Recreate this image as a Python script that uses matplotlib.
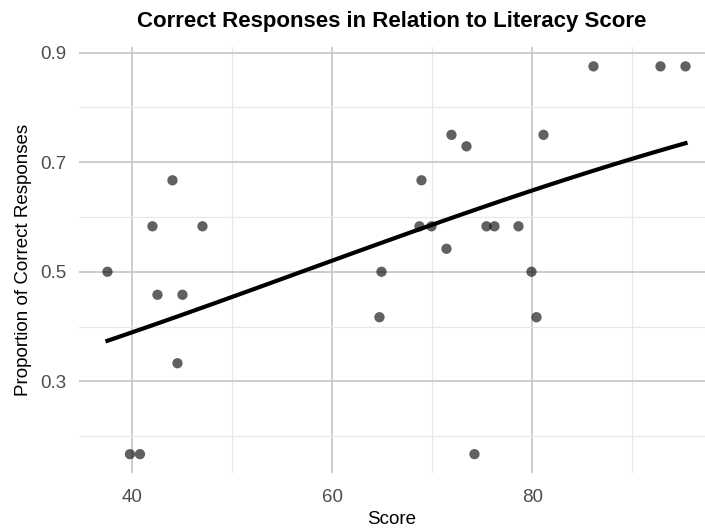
import numpy as np
import matplotlib
matplotlib.use("Agg")
import matplotlib.pyplot as plt
from matplotlib.ticker import MultipleLocator

plt.rcParams["font.family"] = ["Liberation Sans", "DejaVu Sans"]

# data
score = [37.5, 44.0, 42.0, 47.0, 42.5, 45.0, 44.5, 39.75, 40.75, 64.9, 64.7,
         86.1, 92.8, 95.3, 71.9, 73.4, 81.1, 68.9, 68.7, 69.9, 75.4, 76.2,
         78.6, 71.4, 79.9, 80.4, 74.2]
prop = [0.5, 0.667, 0.583, 0.583, 0.458, 0.458, 0.333, 0.167, 0.167, 0.5, 0.417,
        0.875, 0.875, 0.875, 0.75, 0.729, 0.75, 0.667, 0.583, 0.583, 0.583, 0.583,
        0.583, 0.542, 0.5, 0.417, 0.167]

x = np.array(score)
y = np.array(prop)

# logistic (quasi-binomial) smooth via IRLS
X = np.column_stack([np.ones_like(x), x])
b = np.zeros(2)
for _ in range(50):
    eta = X @ b
    mu = 1 / (1 + np.exp(-eta))
    w = mu * (1 - mu)
    z = eta + (y - mu) / w
    b = np.linalg.solve(X.T @ (w[:, None] * X), X.T @ (w * z))
xs = np.linspace(x.min(), x.max(), 100)
ys = 1 / (1 + np.exp(-(b[0] + b[1] * xs)))

fig = plt.figure(figsize=(7.05, 5.32), dpi=100)
ax = fig.add_axes([0.112, 0.1103, 0.888, 0.802])

ax.scatter(x, y, s=55, color="black", alpha=0.62, edgecolors="none", zorder=3)
ax.plot(xs, ys, color="black", lw=3.0, zorder=4)

ax.set_xlim(34.65, 97.25)
ax.set_ylim(0.132, 0.911)
ax.xaxis.set_major_locator(MultipleLocator(20))
ax.xaxis.set_minor_locator(MultipleLocator(10))
ax.set_yticks([0.3, 0.5, 0.7, 0.9])
ax.set_yticks([0.2, 0.4, 0.6, 0.8], minor=True)
ax.set_yticklabels(["0.3", "0.5", "0.7", "0.9"])

ax.grid(which="major", color="#c9c9c9", lw=1.3)
ax.grid(which="minor", color="#e8e8e8", lw=0.9)
ax.set_axisbelow(True)
for s in ax.spines.values():
    s.set_visible(False)
ax.tick_params(which="both", length=0, labelsize=13.5, labelcolor="#4d4d4d")
ax.tick_params(axis="x", pad=11)
ax.tick_params(axis="y", pad=9)

ax.set_xlabel("Score", fontsize=13.5, color="black", labelpad=4)
ax.set_ylabel("Proportion of Correct Responses", fontsize=13.5, color="black", labelpad=6)
ax.set_title("Correct Responses in Relation to Literacy Score", fontsize=16,
             fontweight="bold", pad=14)

fig.savefig("out.png", dpi=100)
